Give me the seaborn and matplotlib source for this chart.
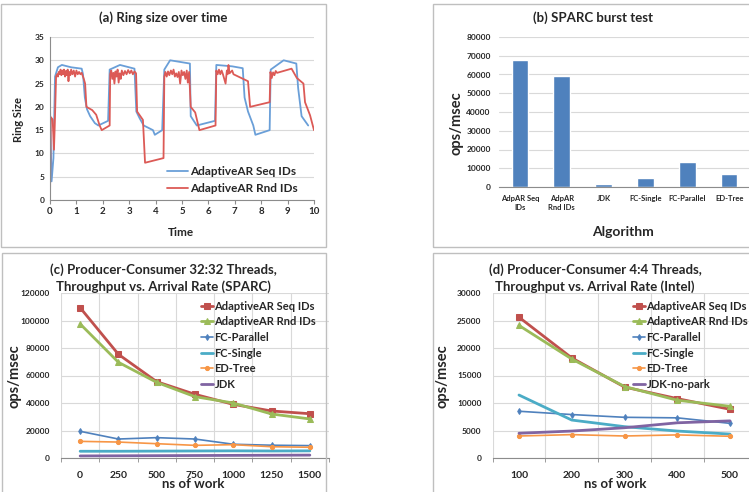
import matplotlib
matplotlib.use("Agg")
import matplotlib.pyplot as plt
from matplotlib.patches import Rectangle
import numpy as np
import seaborn as sns

# ── Data ──────────────────────────────────────────────────────────────────────

# (a) ring size over time
seq_t = [0, 0.06, 0.13, 0.19, 0.3, 0.45, 0.8, 1.2, 1.25, 1.32, 1.4, 1.52, 1.7, 1.83,
         2.2, 2.26, 2.65, 3.2, 3.27, 3.4, 3.55, 3.9, 3.97, 4.25, 4.33, 4.55, 5.3,
         5.33, 5.56, 6.25, 6.3, 6.9, 7.3, 7.37, 7.5, 7.7, 7.78, 8.32, 8.36, 8.85,
         9.33, 9.4, 9.53, 9.78]
seq_ring = [20, 4, 9, 26.5, 28.5, 29, 28.5, 28.2, 27, 22, 19.5, 18, 16.5, 16,
            17, 28, 29, 28.2, 19, 17.5, 16, 15, 14, 15, 28, 30, 29.3,
            18, 16, 17, 29, 28.7, 28.3, 22, 19, 16, 14, 15, 28, 30,
            29.3, 24, 18, 16]

rnd_t = [0, 0.03, 0.1, 0.15, 0.18, 0.23,
         0.27, 0.3, 0.33, 0.37, 0.4, 0.43, 0.47, 0.5, 0.53, 0.57, 0.6, 0.63, 0.67,
         0.7, 0.73, 0.77, 0.8, 0.85, 0.9, 0.95, 1.0, 1.05, 1.1, 1.15, 1.2,
         1.28, 1.33, 1.38, 1.6, 1.75, 1.88, 1.96, 2.26,
         2.28, 2.32, 2.36, 2.4, 2.44, 2.48, 2.52, 2.56, 2.6, 2.64, 2.68, 2.72,
         2.78, 2.84, 2.9, 2.96, 3.02, 3.08, 3.14, 3.2, 3.26, 3.3, 3.52, 3.6, 4.3,
         4.33, 4.37, 4.42, 4.47, 4.52, 4.58, 4.63, 4.68, 4.73, 4.78, 4.83, 4.88,
         4.93, 4.98, 5.03, 5.08, 5.13, 5.18, 5.22, 5.27, 5.33, 5.5, 5.66, 6.27,
         6.3, 6.35, 6.4, 6.45, 6.5, 6.55, 6.6, 6.65, 6.7, 6.73, 6.76, 6.8, 6.9,
         6.95, 7.5, 7.58, 8.32,
         8.35, 8.4, 8.45, 8.5, 8.55, 8.6, 9.15, 9.35, 9.6, 9.66, 9.85, 10.0]
rnd_ring = [0, 17.8, 17.3, 10.8, 16, 26.5,
            27, 26.5, 27.5, 27, 28, 26.8, 27.8, 27, 28, 26.5, 27.7, 26.8, 28,
            25.5, 27.5, 26.8, 28, 27, 27.8, 26.5, 27.8, 27, 27.5, 27, 27.3,
            26, 25, 20, 19.3, 18.3, 16, 15, 16,
            27, 27.8, 26, 27.3, 25, 27.6, 26.5, 28, 25.2, 27.2, 26, 27.8,
            26.8, 27.7, 27, 27.9, 27.2, 27.8, 27, 27.6, 27.2, 19, 17.2, 8, 9,
            26.5, 27.5, 26.5, 27.6, 26.8, 27.8, 27, 28, 26.5, 27.2, 26.4, 27.5,
            25, 27.8, 26.8, 27.5, 26, 27.8, 25.2, 27.5, 20, 18.8, 15, 16,
            27.8, 27, 28, 27, 27.8, 27, 26, 25, 27.8, 27, 29, 27.2, 27.8,
            27, 25.5, 20, 21,
            27.5, 26.2, 27.4, 26.8, 27.7, 27.3, 28.2, 26.2, 25, 21, 18.2, 15]

# (b) SPARC burst test
algos_b = ["AdpAR Seq\nIDs", "AdpAR\nRnd IDs", "JDK", "FC-Single", "FC-Parallel", "ED-Tree"]
burst_ops = [67500, 59000, 1500, 4900, 13500, 6900]

# (c) 32:32 threads, SPARC
work_c = [0, 250, 500, 750, 1000, 1250, 1500]
c_seq = [109300, 75400, 55500, 46300, 39000, 34200, 32200]
c_rnd = [97500, 69600, 55000, 44600, 40000, 32000, 28400]
c_fcpar = [19400, 13800, 14800, 13800, 10000, 9300, 9000]
c_fcsingle = [4900, 4900, 5000, 5100, 5200, 5100, 5200]
c_edtree = [12100, 11600, 10400, 9200, 9700, 8200, 7800]
c_jdk = [1500, 1600, 1700, 1800, 1900, 2000, 2100]

# (d) 4:4 threads, Intel
work_d = [100, 200, 300, 400, 500]
d_seq = [25600, 18200, 12900, 10800, 8850]
d_rnd = [24100, 18000, 13000, 10500, 9400]
d_fcpar = [8500, 7900, 7400, 7300, 6300]
d_fcsingle = [11450, 6900, 5700, 4900, 4350]
d_edtree = [4000, 4250, 4000, 4200, 3950]
d_jdk = [4500, 4900, 5500, 6400, 6750]

# ── Style ─────────────────────────────────────────────────────────────────────

sns.set_style("white")
plt.rcParams["font.family"] = ["Lato", "DejaVu Sans"]
plt.rcParams["font.weight"] = "bold"
plt.rcParams["axes.labelweight"] = "bold"

BLUE, RED, GREEN = "#4F81BD", "#C0504D", "#9BBB59"
PURPLE, AQUA, ORANGE = "#8064A2", "#4BACC6", "#F79646"
GRID = "#d9d9d9"
AXIS = "#8c8c8c"

W, H = 749, 492
fig = plt.figure(figsize=(W / 100, H / 100), dpi=100)


def px_axes(l, t, r, b):
    return fig.add_axes([l / W, 1 - b / H, (r - l) / W, (b - t) / H])


def px_text(x, y, s, **kw):
    fig.text(x / W, 1 - y / H, s, **kw)


def box(l, t, r, b):
    fig.patches.append(Rectangle((l / W, 1 - b / H), (r - l) / W, (b - t) / H,
                                 transform=fig.transFigure, fill=False,
                                 edgecolor="#bfbfbf", linewidth=1.0, zorder=0))


def excel_axes(ax):
    ax.set_facecolor("none")
    for s in ["top", "right"]:
        ax.spines[s].set_visible(False)
    for s in ["left", "bottom"]:
        ax.spines[s].set_color(AXIS)
        ax.spines[s].set_linewidth(0.8)
    ax.yaxis.grid(True, color=GRID, linewidth=0.8)
    ax.set_axisbelow(True)
    ax.set_xlabel("")
    ax.set_ylabel("")


box(1, 4, 326, 247)
box(433, 4, 760, 247)
box(2, 253, 326, 500)
box(433, 253, 760, 500)

# ── (a) Ring size over time ──────────────────────────────────────────────────

ax = px_axes(50, 37, 314, 200)
sns.lineplot(x=seq_t, y=seq_ring, ax=ax, color="#6A9FD8", linewidth=1.3,
             estimator=None, label="AdaptiveAR Seq IDs")
sns.lineplot(x=rnd_t, y=rnd_ring, ax=ax, color="#DC5A56", linewidth=1.3,
             estimator=None, label="AdaptiveAR Rnd IDs")
excel_axes(ax)
ax.set_xlim(0, 10)
ax.set_ylim(0, 35)
ax.set_xticks(range(0, 11))
ax.set_yticks(range(0, 36, 5))
ax.tick_params(axis="x", labelsize=7, length=3, color=AXIS, bottom=True, pad=2)
ax.tick_params(axis="y", labelsize=6, length=0, pad=4)
ax.legend(loc="upper left", bbox_to_anchor=(161 / W, 1 - 160 / H),
          bbox_transform=fig.transFigure, frameon=False, fontsize=8.5,
          handlelength=1.8, handletextpad=0.15, labelspacing=0.5, borderpad=0)
px_text(163, 18, "(a) Ring size over time", ha="center", va="center", fontsize=9.5)
px_text(181, 232, "Time", ha="center", va="center", fontsize=8.5)
px_text(18, 119, "Ring Size", ha="center", va="center", rotation=90, fontsize=8)

# ── (b) SPARC burst test ─────────────────────────────────────────────────────

ax = px_axes(499, 37, 750, 187)
sns.barplot(x=algos_b, y=burst_ops, ax=ax, color=BLUE, width=0.4, saturation=1)
excel_axes(ax)
ax.set_xlim(-0.5, 5.5)
ax.set_ylim(0, 80000)
ax.set_yticks(range(0, 80001, 10000))
ax.tick_params(axis="x", labelsize=5.5, length=0, pad=6)
ax.tick_params(axis="y", labelsize=6, length=0, pad=6)
ax.spines["left"].set_visible(False)
px_text(593, 18, "(b) SPARC burst test", ha="center", va="center", fontsize=9.5)
px_text(623, 232, "Algorithm", ha="center", va="center", fontsize=10)
px_text(457, 123, "ops/msec", ha="center", va="center", rotation=90, fontsize=10.5)


# ── (c)/(d) Producer-consumer throughput ─────────────────────────────────────

def throughput_panel(ax, work, series, ymax, ystep):
    idx = np.arange(len(work))
    for vals, color, marker, ms, lw, label in series:
        sns.lineplot(x=idx, y=vals, ax=ax, color=color, marker=marker,
                     markersize=ms, markeredgecolor=color, linewidth=lw,
                     estimator=None, label=label)
    excel_axes(ax)
    ax.set_xlim(-0.5, len(work) - 0.5)
    ax.set_ylim(0, ymax)
    ax.set_yticks(range(0, ymax + 1, ystep))
    ax.set_xticks(idx)
    ax.set_xticklabels([str(w) for w in work])
    ax.set_xticks(np.arange(-0.5, len(work), 1.0), minor=True)
    ax.xaxis.grid(True, which="minor", color=GRID, linewidth=0.8)
    ax.tick_params(axis="x", which="major", labelsize=7.5, length=0, pad=9)
    ax.tick_params(axis="x", which="minor", length=3, color=AXIS, bottom=True)
    ax.tick_params(axis="y", labelsize=6, length=0, pad=8)
    ax.spines["left"].set_visible(False)


def throughput_legend(ax, x, y):
    ax.legend(loc="upper left", bbox_to_anchor=(x / W, 1 - y / H),
              bbox_transform=fig.transFigure, frameon=False, fontsize=8,
              handlelength=1.1, handletextpad=0.15, labelspacing=0.42, borderpad=0)


ax = px_axes(61, 293, 329, 458)
throughput_panel(ax, work_c, [
    (c_seq, RED, "s", 5, 2.0, "AdaptiveAR Seq IDs"),
    (c_rnd, GREEN, "^", 5, 2.0, "AdaptiveAR Rnd IDs"),
    (c_fcpar, BLUE, "d", 3, 1.2, "FC-Parallel"),
    (c_fcsingle, AQUA, None, 0, 2.0, "FC-Single"),
    (c_edtree, ORANGE, "o", 3, 1.2, "ED-Tree"),
    (c_jdk, PURPLE, None, 0, 2.0, "JDK"),
], 120000, 20000)
throughput_legend(ax, 195, 295)
px_text(163, 270, "(c) Producer-Consumer 32:32 Threads,", ha="center", va="center", fontsize=9.5)
px_text(163, 287, "Throughput vs. Arrival Rate (SPARC)", ha="center", va="center", fontsize=9.5)
px_text(193, 484, "ns of work", ha="center", va="center", fontsize=9.5)
px_text(15, 376, "ops/msec", ha="center", va="center", rotation=90, fontsize=10.5)

ax = px_axes(492.6, 293, 756.4, 458)
throughput_panel(ax, work_d, [
    (d_seq, RED, "s", 5, 2.0, "AdaptiveAR Seq IDs"),
    (d_rnd, GREEN, "^", 5, 2.0, "AdaptiveAR Rnd IDs"),
    (d_fcpar, BLUE, "d", 3, 1.2, "FC-Parallel"),
    (d_fcsingle, AQUA, None, 0, 2.0, "FC-Single"),
    (d_edtree, ORANGE, "o", 3, 1.2, "ED-Tree"),
    (d_jdk, PURPLE, None, 0, 2.0, "JDK-no-park"),
], 30000, 5000)
throughput_legend(ax, 627, 295)
px_text(595, 270, "(d) Producer-Consumer 4:4 Threads,", ha="center", va="center", fontsize=9.5)
px_text(595, 287, "Throughput vs. Arrival Rate (Intel)", ha="center", va="center", fontsize=9.5)
px_text(615, 484, "ns of work", ha="center", va="center", fontsize=9.5)
px_text(442, 376, "ops/msec", ha="center", va="center", rotation=90, fontsize=10.5)

fig.savefig("out.png", dpi=100)
